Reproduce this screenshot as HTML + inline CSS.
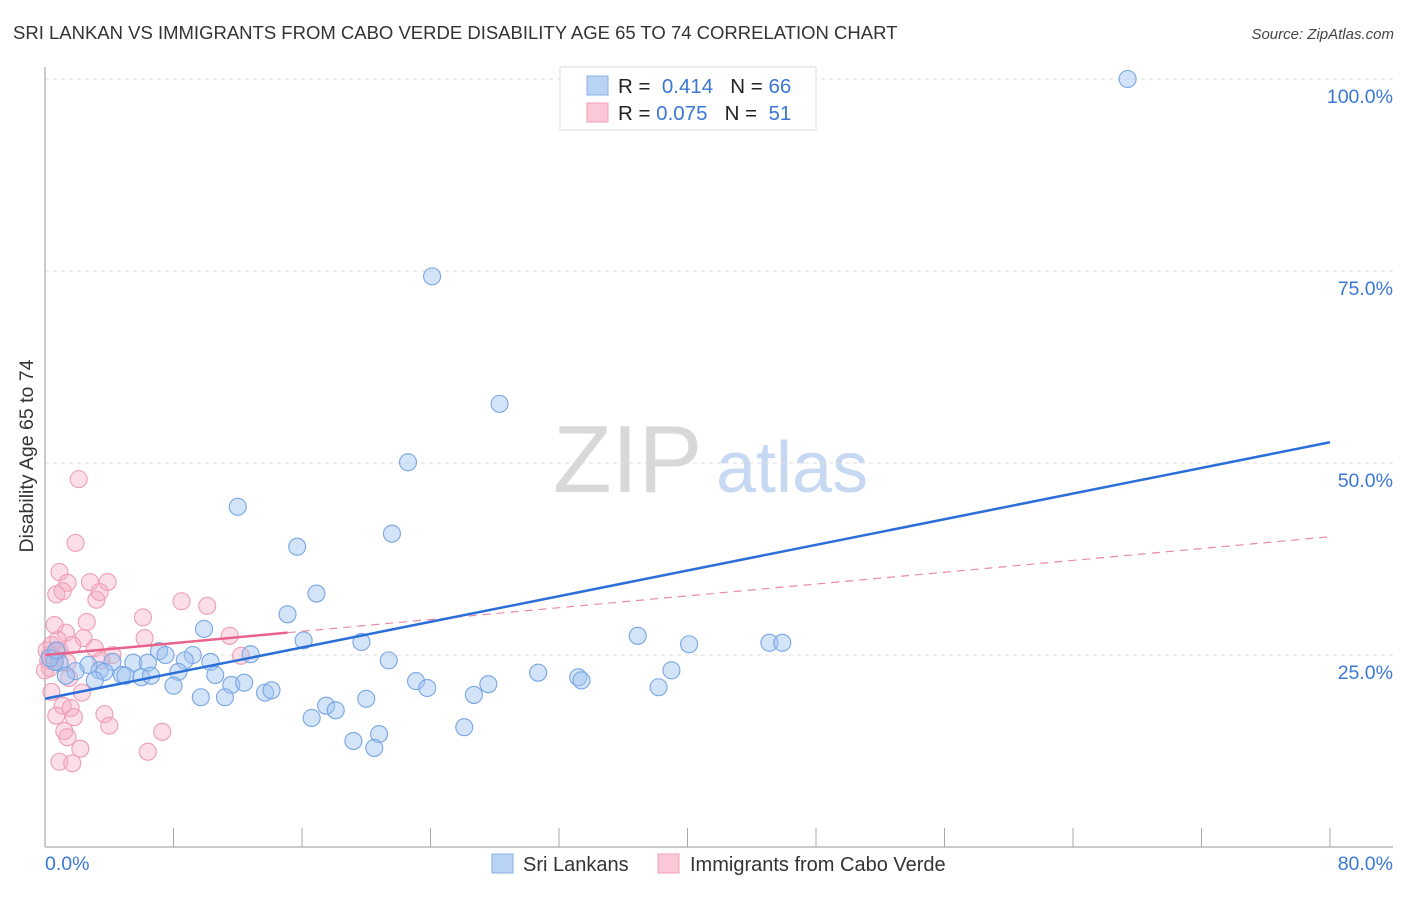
<!DOCTYPE html>
<html><head><meta charset="utf-8"><style>
body{margin:0;background:#fff;font-family:"Liberation Sans",sans-serif;}
svg text{font-family:"Liberation Sans",sans-serif;}
</style></head><body>
<svg id="chart" width="1406" height="892" xmlns="http://www.w3.org/2000/svg">
<text x="13" y="39" font-size="18.5" fill="#333">SRI LANKAN VS IMMIGRANTS FROM CABO VERDE DISABILITY AGE 65 TO 74 CORRELATION CHART</text>
<text x="1394" y="39" font-size="15" fill="#444" text-anchor="end" font-style="italic">Source: ZipAtlas.com</text>
<g>
<text x="553" y="492" font-size="96" fill="#d8d8d8" font-family="Liberation Serif, serif">ZIP</text>
<text x="716" y="492" font-size="72" fill="#c6d8f2">atlas</text>
</g>
<g id="grid"></g>
<line x1="45" y1="67" x2="45" y2="847" stroke="#aaa" stroke-width="1.2"/>
<line x1="45" y1="847" x2="1393" y2="847" stroke="#aaa" stroke-width="1.2"/>
<text transform="translate(33,456) rotate(-90)" font-size="19.5" fill="#333" text-anchor="middle">Disability Age 65 to 74</text>
<g id="pts"></g>
<g id="lines"></g>
<g>
<rect x="560" y="67" width="256" height="63" fill="#fff" stroke="#ddd"/>
<rect x="587" y="76" width="21" height="19" fill="#b9d3f5" stroke="#8ab0e8"/>
<rect x="587" y="103" width="21" height="19" fill="#fac8d6" stroke="#f0a0b8"/>
<text x="618" y="93" font-size="20.5" fill="#222">R = <tspan fill="#3a78d4">&#160;0.414</tspan>&#160;&#160;&#160;N = <tspan fill="#3a78d4">66</tspan></text>
<text x="618" y="120" font-size="20.5" fill="#222">R = <tspan fill="#3a78d4">0.075</tspan>&#160;&#160;&#160;N = <tspan fill="#3a78d4">&#160;51</tspan></text>
</g>
<g>
<rect x="492" y="854" width="21" height="19" fill="#b9d3f5" stroke="#8ab0e8"/>
<text x="523" y="871" font-size="20" fill="#333">Sri Lankans</text>
<rect x="658" y="854" width="21" height="19" fill="#fac8d6" stroke="#f0a0b8"/>
<text x="690" y="871" font-size="20" fill="#333">Immigrants from Cabo Verde</text>
</g>
</svg>
<script>
const blueX=[67.4,24.1,28.3,22.6,12.0,21.6,15.7,16.9,15.1,9.9,16.1,19.7,36.9,40.1,45.1,45.9,7.1,7.5,9.2,12.8,10.3,8.7,5.5,6.4,4.2,2.7,0.9,1.9,1.3,3.4,3.7,3.1,4.8,5.0,6.0,6.6,8.3,10.6,11.6,12.4,8.0,9.7,11.2,13.7,14.1,21.4,23.1,23.8,26.7,27.6,30.7,33.2,33.4,38.2,39.0,16.6,17.5,18.1,20.0,19.2,20.8,20.5,26.1,0.6,0.3,0.7];
const blueY=[100.0,74.3,57.7,50.1,44.3,40.8,39.1,33.0,30.3,28.4,26.9,26.7,27.5,26.4,26.6,26.6,25.5,25.0,25.0,25.1,24.1,24.3,24.0,24.0,24.1,23.7,24.0,22.9,22.3,23.0,22.8,21.7,22.4,22.3,22.1,22.3,22.8,22.4,21.1,21.4,21.0,19.5,19.5,20.1,20.4,24.3,21.6,20.7,19.8,21.2,22.7,22.1,21.7,20.8,23.0,16.8,18.4,17.8,19.3,13.8,14.7,12.9,15.6,24.1,24.6,25.6];
const pinkX=[2.1,1.9,0.9,1.4,2.8,3.9,0.7,1.1,3.2,3.4,6.1,8.5,10.1,2.6,1.3,2.4,6.2,11.5,1.7,3.1,0.4,0.7,0.9,0.2,0.3,0.6,4.2,12.2,1.5,0.4,2.3,1.1,1.6,3.7,0.7,1.8,4.0,1.2,1.4,2.2,7.3,6.4,0.9,1.7,0.3,0.1,0.0,0.8,3.5,1.4,0.6];
const pinkY=[47.9,39.6,35.8,34.4,34.5,34.5,32.9,33.3,32.2,33.2,29.9,32.0,31.4,29.3,27.9,27.2,27.2,27.5,26.3,25.9,26.3,25.4,25.6,24.3,23.3,24.6,25.0,24.9,22.0,20.2,20.1,18.4,18.1,17.3,17.1,16.9,15.8,15.1,14.3,12.8,15.0,12.4,11.1,10.9,25.0,25.6,23.0,27.0,24.3,24.0,28.9];
const blueTrend=[19.3,52.7];
const pinkTrend=[25.0,40.4];
const pinkSolidEnd=15.1;
const yTicks=[25,50,75,100];
const yTickLabels=["25.0%","50.0%","75.0%","100.0%"];
const xTicks=[0,8,16,24,32,40,48,56,64,72,80];

const NS="http://www.w3.org/2000/svg";
const sx=v=>45+v*(1285/80);
const sy=v=>847-v*7.68;
function mk(tag,attrs,parent){const e=document.createElementNS(NS,tag);for(const k in attrs)e.setAttribute(k,attrs[k]);parent.appendChild(e);return e;}
const grid=document.getElementById('grid');
yTicks.forEach((t,i)=>{
  const l=mk('line',{x1:45,x2:1393,y1:sy(t),y2:sy(t),stroke:'#ddd','stroke-dasharray':'4,4'},grid);
  
  
  const tx=mk('text',{x:1393,y:sy(t)+24,'font-size':19.5,fill:'#3a78d4','text-anchor':'end'},grid);
  tx.textContent=yTickLabels[i];
  
  
});
xTicks.forEach(t=>{
  const l=mk('line',{x1:sx(t),x2:sx(t),y1:828,y2:847,stroke:'#aaa'},grid);
  
  
});
const x0=mk('text',{x:45,y:870,'font-size':19.5,fill:'#3a78d4'},grid);x0.textContent='0.0%';


const x1=mk('text',{x:1393,y:870,'font-size':19.5,fill:'#3a78d4','text-anchor':'end'},grid);x1.textContent='80.0%';



const pts=document.getElementById('pts');
pinkX.forEach((x,i)=>{
  const c=mk('circle',{cx:sx(x),cy:sy(pinkY[i]),r:8.5,fill:'rgba(246,172,194,0.4)',stroke:'#ee9db6','stroke-width':1.1},pts);
  
  
});
blueX.forEach((x,i)=>{
  const c=mk('circle',{cx:sx(x),cy:sy(blueY[i]),r:8.5,fill:'rgba(160,196,240,0.45)',stroke:'#78a5e4','stroke-width':1.1},pts);
  
  
});
const lines=document.getElementById('lines');
const pAt=x=>pinkTrend[0]+(pinkTrend[1]-pinkTrend[0])*x/80;
const pd=mk('line',{x1:sx(pinkSolidEnd),y1:sy(pAt(pinkSolidEnd)),x2:sx(80),y2:sy(pinkTrend[1]),stroke:'#e88aa8','stroke-width':1.2,'stroke-dasharray':'8,6'},lines);


const bl=mk('line',{x1:sx(0),y1:sy(blueTrend[0]),x2:sx(80),y2:sy(blueTrend[1]),stroke:'#2a6fd8','stroke-width':2.5},lines);


const ps=mk('line',{x1:sx(0),y1:sy(pinkTrend[0]),x2:sx(pinkSolidEnd),y2:sy(pAt(pinkSolidEnd)),stroke:'#e8628c','stroke-width':2.5},lines);


</script>
</body></html>
